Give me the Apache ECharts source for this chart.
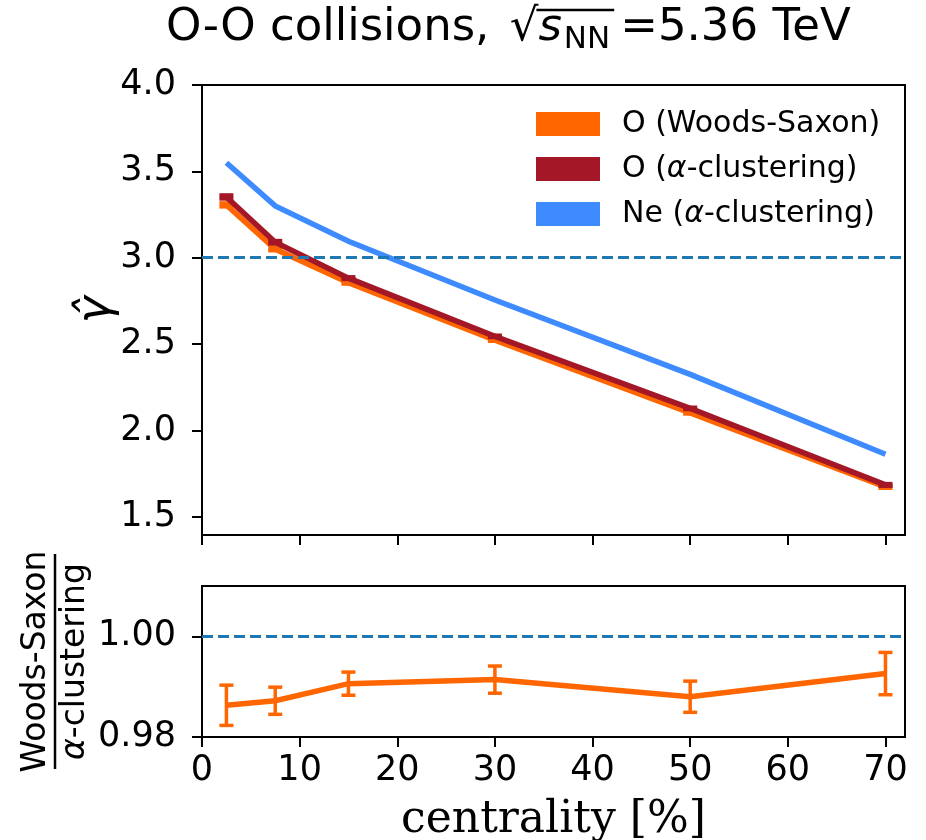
<!DOCTYPE html>
<html><head><meta charset="utf-8">
<script src="https://cdn.jsdelivr.net/npm/echarts@6/dist/echarts.min.js"></script>
<style>html,body{margin:0;padding:0;background:#fff}#c{width:926px;height:840px}</style>
</head><body><div id="c"></div>
<script>
// ---- data ----
const centrality = [2.5, 7.5, 15, 30, 50, 70];
const gammaWS = [3.306, 3.050, 2.855, 2.523, 2.102, 1.673];
const gammaWSErr = [0.010, 0.008, 0.006, 0.005, 0.005, 0.006];
const gammaAlpha = [3.352, 3.090, 2.882, 2.545, 2.128, 1.685];
const gammaAlphaErr = [0.010, 0.008, 0.006, 0.005, 0.005, 0.006];
const gammaNe = [3.550, 3.300, 3.095, 2.755, 2.325, 1.862];
const ratio = [0.9863, 0.9872, 0.9906, 0.9914, 0.9880, 0.9926];
const ratioErr = [0.0040, 0.0027, 0.0023, 0.0027, 0.0031, 0.0042];
const xTicks = [0, 10, 20, 30, 40, 50, 60, 70];
const yTicksTop = [1.5, 2.0, 2.5, 3.0, 3.5, 4.0];
const yTicksBottom = [0.98, 1.00];
const refTop = 3.0;
const refBottom = 1.0;
const names = ['O (Woods-Saxon)', 'O (α-clustering)', 'Ne (α-clustering)'];

// ---- style ----
const C_WS = '#ff6600', C_AL = '#a31726', C_NE = '#3d8bff', C_REF = '#1f77b4';
const FONT = 'DejaVu Sans';
const TICKFS = 35;
const chart = echarts.init(document.getElementById('c'), null, {renderer: 'canvas'});

function pairs(xs, ys) { return xs.map((x, i) => [x, ys[i]]); }
function errSeries(vals, errs, color, gi, capHalf, lw, z) {
  return {
    type: 'custom', xAxisIndex: gi, yAxisIndex: gi, silent: true, z: z,
    data: centrality.map((x, i) => [x, vals[i] - errs[i], vals[i] + errs[i]]),
    encode: {x: 0, y: [1, 2]},
    renderItem(params, api) {
      const x = api.value(0);
      const lo = api.coord([x, api.value(1)]);
      const hi = api.coord([x, api.value(2)]);
      const style = {stroke: color, lineWidth: lw, fill: null};
      return {type: 'group', children: [
        {type: 'line', shape: {x1: lo[0], y1: lo[1], x2: hi[0], y2: hi[1]}, style},
        {type: 'line', shape: {x1: lo[0] - capHalf, y1: lo[1], x2: lo[0] + capHalf, y2: lo[1]}, style},
        {type: 'line', shape: {x1: hi[0] - capHalf, y1: hi[1], x2: hi[0] + capHalf, y2: hi[1]}, style}
      ]};
    }
  };
}
function lineSeries(name, ys, color, gi, z, extra) {
  return Object.assign({
    type: 'line', name: name, xAxisIndex: gi, yAxisIndex: gi, data: pairs(centrality, ys),
    showSymbol: false, symbol: 'none', z: z, silent: true,
    lineStyle: {color: color, width: 5.5, cap: 'butt', join: 'miter'},
    itemStyle: {color: color}, emphasis: {disabled: true}
  }, extra || {});
}
const refLine = (v) => ({
  silent: true, symbol: 'none', label: {show: false},
  lineStyle: {color: C_REF, width: 3, type: [11, 5]},
  data: [{yAxis: v}], animation: false
});

const axisLineStyle = {color: '#000', width: 2};
const tickStyle = {color: '#000', width: 2};
const xAxisBase = (gi, showLabels) => ({
  gridIndex: gi, type: 'value', min: 0, max: 72,
  axisLine: {show: true, onZero: false, lineStyle: axisLineStyle},
  axisTick: {show: true, length: 10, lineStyle: tickStyle, customValues: xTicks},
  axisLabel: {show: showLabels, customValues: xTicks, fontSize: TICKFS, fontFamily: FONT, color: '#000', margin: 16},
  splitLine: {show: false}
});

// title pieces (math: sqrt over s_NN)
const tFont = 45, subFont = 31, titleLeft = 166, titleTop = 6;
const radPadL = 6, subPadL = 2, subPadR = 10;
const meas = document.createElement('canvas').getContext('2d');
function tw(txt, font) { meas.font = font; return meas.measureText(txt).width; }
const wPre = tw('O-O collisions, ', tFont + 'px "' + FONT + '"');
const wRad = tw('√', tFont + 'px "' + FONT + '"');
const wS = tw('s', 'italic ' + tFont + 'px "' + FONT + '"');
const wNN = tw('NN', subFont + 'px "' + FONT + '"');
const ovX1 = titleLeft + wPre + radPadL + wRad - 2;
const ovX2 = titleLeft + wPre + radPadL + wRad + wS + subPadL + wNN + 4;

const tok = (extra) => Object.assign({fontSize: tFont, fontFamily: FONT, fontWeight: 'normal', color: '#000', verticalAlign: 'bottom', padding: [0, 0, 4, 0]}, extra || {});

const option = {
  backgroundColor: '#fff',
  animation: false,
  title: {
    text: '{t|O-O collisions, }{r|√}{s|s}{sub|NN}{e|=5.36 TeV}',
    left: titleLeft, top: titleTop, padding: 0,
    textStyle: {
      fontWeight: 'normal', fontFamily: FONT, fontSize: tFont, color: '#000',
      rich: {
        t: tok(),
        r: tok({padding: [0, 0, 4, radPadL]}),
        s: tok({fontStyle: 'italic'}),
        sub: tok({fontSize: subFont, padding: [0, subPadR, 0, subPadL]}),
        e: tok()
      }
    }
  },
  graphic: [{
    type: 'line', silent: true,
    shape: {x1: ovX1, y1: 10, x2: ovX2, y2: 10},
    style: {stroke: '#000', lineWidth: 2.5}
  }],
  legend: {
    orient: 'vertical', left: 536, top: 109, icon: 'rect', padding: 0,
    itemWidth: 64, itemHeight: 24, itemGap: 15, selectedMode: false,
    data: names,
    formatter: (n) => n.replace('α', '{g|α}'),
    textStyle: {
      fontSize: 30, fontFamily: FONT, color: '#000', padding: [0, 0, 0, 17],
      rich: {g: {fontSize: 30, fontFamily: FONT, fontStyle: 'italic', color: '#000'}}
    }
  },
  grid: [
    {left: 202, top: 85, width: 703, height: 450, show: true, borderColor: '#000', borderWidth: 2, containLabel: false, outerBoundsMode: 'none'},
    {left: 202, top: 586, width: 703, height: 151, show: true, borderColor: '#000', borderWidth: 2, containLabel: false, outerBoundsMode: 'none'}
  ],
  xAxis: [
    xAxisBase(0, false),
    Object.assign(xAxisBase(1, true), {
      name: 'centrality [%]', nameLocation: 'middle', nameGap: 62, nameMoveOverlap: false,
      nameTextStyle: {fontSize: 44, fontFamily: 'DejaVu Serif', color: '#000'}
    })
  ],
  yAxis: [
    {
      gridIndex: 0, type: 'value', min: 1.395, max: 4.0,
      axisLine: {show: true, onZero: false, lineStyle: axisLineStyle},
      axisTick: {show: true, length: 10, lineStyle: tickStyle, customValues: yTicksTop},
      axisLabel: {customValues: yTicksTop, fontSize: TICKFS, fontFamily: FONT, color: '#000', margin: 26,
        formatter: (v) => v.toFixed(1)},
      splitLine: {show: false},
      name: 'γ\u0302', nameLocation: 'middle', nameGap: 82, nameRotate: 90, nameMoveOverlap: false,
      nameTextStyle: {fontSize: 46, fontFamily: FONT, fontStyle: 'italic', color: '#000'}
    },
    {
      gridIndex: 1, type: 'value', min: 0.98, max: 1.01,
      axisLine: {show: true, onZero: false, lineStyle: axisLineStyle},
      axisTick: {show: true, length: 10, lineStyle: tickStyle, customValues: yTicksBottom},
      axisLabel: {customValues: yTicksBottom, fontSize: TICKFS, fontFamily: FONT, color: '#000', margin: 26,
        formatter: (v) => v.toFixed(2)},
      splitLine: {show: false},
      name: '{a|Woods-Saxon}\n{bar|}\n{g|α}{b|-clustering}',
      nameLocation: 'middle', nameGap: 110, nameRotate: 90, nameMoveOverlap: false,
      nameTextStyle: {
        align: 'center',
        rich: {
          a: {fontSize: 33, fontFamily: FONT, color: '#000', lineHeight: 32, align: 'center'},
          bar: {width: 215, height: 2.5, lineHeight: 6, backgroundColor: '#000', align: 'center'},
          g: {fontSize: 33, fontFamily: FONT, fontStyle: 'italic', color: '#000', lineHeight: 34},
          b: {fontSize: 33, fontFamily: FONT, color: '#000', lineHeight: 34}
        }
      }
    }
  ],
  series: [
    lineSeries(names[0], gammaWS, C_WS, 0, 2, {markLine: refLine(refTop)}),
    errSeries(gammaWS, gammaWSErr, C_WS, 0, 7, 4, 2),
    lineSeries(names[1], gammaAlpha, C_AL, 0, 3),
    errSeries(gammaAlpha, gammaAlphaErr, C_AL, 0, 7, 4, 3),
    lineSeries(names[2], gammaNe, C_NE, 0, 4),
    lineSeries('ratio', ratio, C_WS, 1, 3, {markLine: refLine(refBottom)}),
    errSeries(ratio, ratioErr, C_WS, 1, 7, 3.5, 3)
  ]
};
chart.setOption(option);
</script>
</body></html>
